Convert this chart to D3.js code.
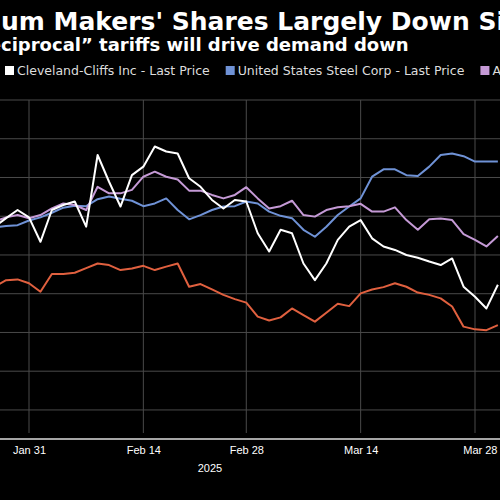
<!DOCTYPE html>
<html>
<head>
<meta charset="utf-8">
<script src="https://cdn.jsdelivr.net/npm/d3@7"></script>
<style>
  body { margin: 0; background: #000; }
  svg { display: block; background: #000; font-family: "Liberation Sans", Arial, sans-serif; }
</style>
</head>
<body>
<svg id="chart" width="500" height="500"></svg>
<script>
// trading days, Presidents Day skipped
var days = ["2025-01-28","2025-01-29","2025-01-30","2025-01-31",
  "2025-02-03","2025-02-04","2025-02-05","2025-02-06","2025-02-07",
  "2025-02-10","2025-02-11","2025-02-12","2025-02-13","2025-02-14",
  "2025-02-18","2025-02-19","2025-02-20","2025-02-21",
  "2025-02-24","2025-02-25","2025-02-26","2025-02-27","2025-02-28",
  "2025-03-03","2025-03-04","2025-03-05","2025-03-06","2025-03-07",
  "2025-03-10","2025-03-11","2025-03-12","2025-03-13","2025-03-14",
  "2025-03-17","2025-03-18","2025-03-19","2025-03-20","2025-03-21",
  "2025-03-24","2025-03-25","2025-03-26","2025-03-27","2025-03-28",
  "2025-03-31","2025-04-01"];

var cliffs = [47.3,49.5,51.6,49.7,43.4,51.6,52.9,53.8,47.3,65.8,58.9,52.5,60.6,62.8,68.0,66.7,66.2,59.8,57.6,54.2,52.0,54.2,53.8,45.6,40.9,46.5,45.6,37.8,33.5,37.8,43.9,47.3,49.0,44.3,42.2,41.3,40.0,39.3,38.3,37.4,39.1,31.8,29.2,26.2,32.3];
var usSteel = [47.1,47.5,47.7,48.9,49.7,50.9,52.2,52.7,52.6,54.4,55.1,54.5,54.0,52.6,53.3,54.6,51.6,49.2,50.3,51.6,52.5,52.6,53.8,53.3,51.2,50.1,49.5,46.5,44.7,47.3,50.3,52.5,54.6,60.2,62.1,62.1,60.6,60.4,62.8,65.8,66.2,65.5,64.1,64.1,64.1];
var alcoa = [48.6,49.7,50.3,49.5,50.3,52.0,53.3,52.9,51.6,57.6,55.9,55.9,56.8,60.2,61.5,60.2,59.5,56.6,56.6,55.5,54.6,55.5,57.5,54.6,52.0,52.6,54.0,50.3,49.9,51.6,52.3,52.6,53.2,51.2,51.2,52.3,49.0,46.5,49.2,49.4,49.0,45.4,43.9,42.2,44.9];
var century = [31.8,33.5,33.7,32.7,30.5,35.1,35.1,35.4,36.6,37.8,37.4,36.1,36.5,37.2,36.1,37.0,37.8,31.8,32.5,31.1,29.7,28.6,27.7,24.1,23.1,23.9,26.2,24.5,22.8,25.1,27.4,26.8,30.1,31.1,31.7,32.7,31.8,30.3,29.7,28.8,26.7,21.5,20.8,20.6,21.9];

var tickDays = ["2025-01-31","2025-02-14","2025-02-28","2025-03-14","2025-03-28"];
var tickLabels = ["Jan 31","Feb 14","Feb 28","Mar 14","Mar 28"];
var gridValues = [0,10,20,30,40,50,60,70,80];

var series = [
  {name: "Century Aluminum Co - Last Price", values: century, color: "#e0603f"},
  {name: "United States Steel Corp - Last Price", values: usSteel, color: "#6f92d6"},
  {name: "Alcoa Corp - Last Price", values: alcoa, color: "#c59ad6"},
  {name: "Cleveland-Cliffs Inc - Last Price", values: cliffs, color: "#ffffff"}
];

var svg = d3.select("#chart");

// index 3 (Jan 31) sits at 29px, index 42 (Mar 28) at 475px
var step = (475 - 29) / 39;
var x = d3.scalePoint().domain(days).range([29 - 3 * step, 29 + 41 * step]);
var y = d3.scaleLinear().domain([-7.5, 80]).range([439, 100]);

// titles, cut off on the left like the source
function clipped(txt, hidden, xPos, yPos, size) {
  var t = svg.append("text").attr("y", yPos).attr("fill", "#fff")
    .attr("font-family", "DejaVu Sans").attr("font-size", size)
    .attr("font-weight", "bold").text(hidden);
  var w = t.node().getComputedTextLength();
  t.text(txt).attr("x", xPos - w);
}
clipped("Aluminum Makers' Shares Largely Down Since Tariffs", "Alumin", 1, 30, 25);
clipped("Investors bet \u201creciprocal\u201d tariffs will drive demand down", "Investors bet \u201cre", 1, 51, 18);

// legend
var lx = 5;
[series[3], series[1], series[2], series[0]].forEach(function (s) {
  svg.append("rect").attr("x", lx).attr("y", 66).attr("width", 9).attr("height", 9).attr("fill", s.color);
  var t = svg.append("text").attr("x", lx + 12).attr("y", 75).attr("fill", "#ddd")
    .attr("font-family", "DejaVu Sans").attr("font-size", 12.5).text(s.name);
  lx += 12 + t.node().getComputedTextLength() + 16;
});

// grid
svg.append("g").selectAll("line").data(gridValues).join("line")
  .attr("x1", 0).attr("x2", 500)
  .attr("y1", function (d) { return y(d); }).attr("y2", function (d) { return y(d); })
  .attr("stroke", "#4a4a4a").attr("stroke-width", 1);
svg.append("g").selectAll("line").data(tickDays).join("line")
  .attr("x1", function (d) { return x(d); }).attr("x2", function (d) { return x(d); })
  .attr("y1", 100).attr("y2", 433)
  .attr("stroke", "#4a4a4a").attr("stroke-width", 1);

// lines
var line = d3.line()
  .x(function (d, i) { return x(days[i]); })
  .y(function (d) { return y(d); });
svg.append("g").selectAll("path").data(series).join("path")
  .attr("d", function (s) { return line(s.values); })
  .attr("fill", "none")
  .attr("stroke", function (s) { return s.color; })
  .attr("stroke-width", 2)
  .attr("stroke-linejoin", "round");

// x axis
var axis = d3.axisBottom(x).tickValues(tickDays)
  .tickFormat(function (d, i) { return tickLabels[i]; })
  .tickSize(0).tickPadding(7);
var ax = svg.append("g").attr("transform", "translate(0,439)").call(axis);
ax.select(".domain").remove();
svg.append("line").attr("x1", 0).attr("x2", 500).attr("y1", 439).attr("y2", 439)
  .attr("stroke", "#ddd").attr("stroke-width", 1.5);
ax.selectAll("text").attr("fill", "#fff").attr("font-size", 11);
ax.selectAll("text").attr("text-anchor", function (d, i) { return i === 4 ? "end" : "middle"; })
  .attr("dx", function (d, i) { return i === 4 ? 22 : 0; });
svg.append("text").attr("x", 210).attr("y", 472).attr("text-anchor", "middle")
  .attr("fill", "#fff").attr("font-size", 11).text("2025");
</script>
</body>
</html>
